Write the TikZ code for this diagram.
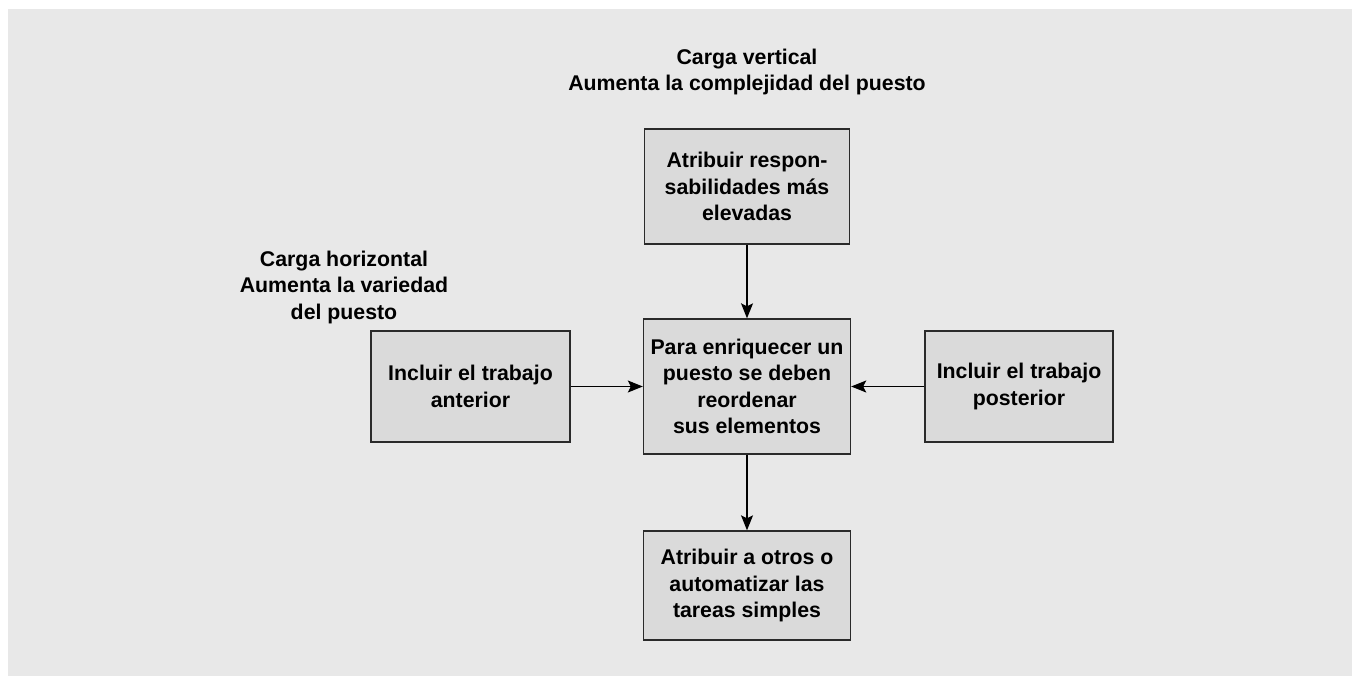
\documentclass[tikz,border=0pt]{standalone}
\usepackage{fontspec}
\setmainfont{Liberation Sans}
\usetikzlibrary{arrows.meta}
\definecolor{panel}{HTML}{E8E8E8}
\definecolor{boxfill}{HTML}{DADADA}
\definecolor{boxline}{HTML}{2A2A2A}
\begin{document}
\begin{tikzpicture}[x=1pt,y=-1pt,
  txt/.style={font=\fontsize{21.3}{26.5}\selectfont\bfseries, align=center, inner sep=0pt, text=black},
  boxnode/.style={txt, draw=boxline, fill=boxfill, line width=1.4pt},
  arr/.style={line width=1.1pt, -{Stealth[length=15pt,width=12pt,inset=3pt]}}]
\useasboundingbox (0,0) rectangle (1356,676);
\fill[panel] (8,9) rectangle (1352,676);

\node[txt] (vlabel) at (747,72) {Carga vertical\\Aumenta la complejidad del puesto};
\node[txt] (hlabel) at (344,287) {Carga horizontal\\Aumenta la variedad\\del puesto};

\node[boxnode, minimum width=205pt, minimum height=115pt] (top) at (747,186.5)
  {Atribuir respon-\\sabilidades más\\elevadas};
\node[boxnode, minimum width=207pt, minimum height=135pt] (center) at (747,386.5)
  {Para enriquecer un\\puesto se deben\\reordenar\\sus elementos};
\node[boxnode, minimum width=207pt, minimum height=109pt] (bottom) at (747,585.5)
  {Atribuir a otros o\\automatizar las\\tareas simples};
\node[boxnode, minimum width=199pt, minimum height=111pt] (left) at (470.5,386.5)
  {Incluir el trabajo\\anterior};
\node[boxnode, minimum width=188pt, minimum height=111pt] (right) at (1019,386.5)
  {Incluir el trabajo\\posterior};

\draw[arr] (top.south) -- (center.north);
\draw[arr] (left.east) -- (center.west);
\draw[arr] (right.west) -- (center.east);
\draw[arr] (center.south) -- (bottom.north);
\end{tikzpicture}
\end{document}
